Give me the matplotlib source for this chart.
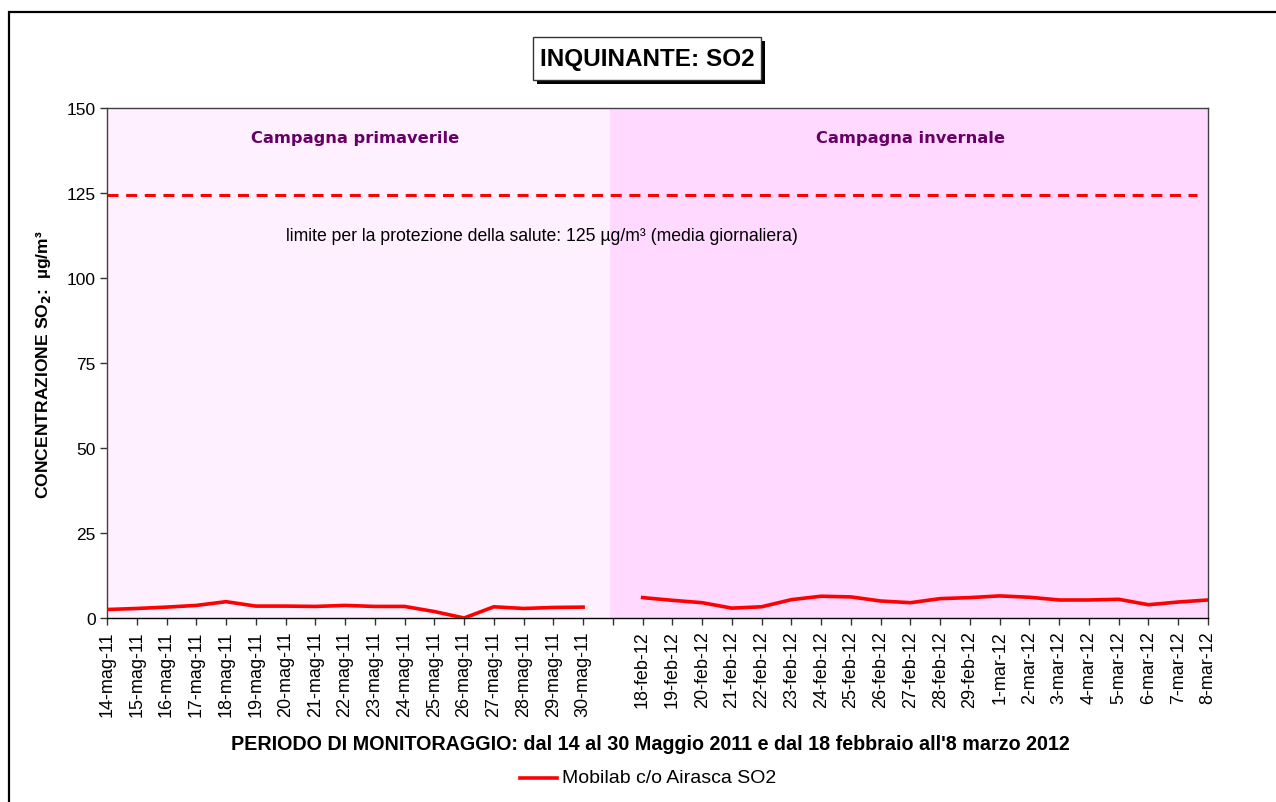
import matplotlib
matplotlib.use("Agg")
import matplotlib.pyplot as plt
import numpy as np
from matplotlib.patches import Rectangle
from matplotlib.lines import Line2D

plt.rcParams['font.family'] = ['Liberation Sans', 'DejaVu Sans']

# ---------------- data ----------------
may_labels = ["14-mag-11", "15-mag-11", "16-mag-11", "17-mag-11", "18-mag-11", "19-mag-11",
              "20-mag-11", "21-mag-11", "22-mag-11", "23-mag-11", "24-mag-11", "25-mag-11",
              "26-mag-11", "27-mag-11", "28-mag-11", "29-mag-11", "30-mag-11"]
may_values = [2.5, 2.8, 3.2, 3.7, 4.8, 3.5, 3.5, 3.4, 3.7, 3.4, 3.4, 1.9, 0.0, 3.3, 2.8, 3.1, 3.2]

gap_labels = [""]
gap_values = [np.nan]

winter_labels = ["18-feb-12", "19-feb-12", "20-feb-12", "21-feb-12", "22-feb-12", "23-feb-12",
                 "24-feb-12", "25-feb-12", "26-feb-12", "27-feb-12", "28-feb-12", "29-feb-12",
                 "1-mar-12", "2-mar-12", "3-mar-12", "4-mar-12", "5-mar-12", "6-mar-12",
                 "7-mar-12", "8-mar-12"]
winter_values = [6.0, 5.2, 4.5, 2.9, 3.3, 5.4, 6.4, 6.2, 5.0, 4.5, 5.7, 6.0, 6.5, 6.1,
                 5.3, 5.3, 5.5, 3.9, 4.7, 5.3]

limit_value = 124.3
y_ticks = [0, 25, 50, 75, 100, 125, 150]
campaign_split = 16.9

labels = may_labels + gap_labels + winter_labels
values = may_values + gap_values + winter_values
x = np.arange(len(labels))

# ---------------- figure ----------------
W, H = 1276, 803
fig = plt.figure(figsize=(W / 100, H / 100), dpi=100)
fig.patch.set_facecolor("white")

def fx(px):
    return px / W

def fy(py):
    return 1 - py / H

# outer frame (extends off canvas at right/bottom)
fig.patches.append(Rectangle((fx(9), fy(830)), fx(1300), fy(13) - fy(830),
                             transform=fig.transFigure, fill=False,
                             edgecolor="black", linewidth=1.6, zorder=0))

left, right, top, bottom = 107, 1208, 109, 619
ax = fig.add_axes([fx(left), fy(bottom), fx(right - left), fy(top) - fy(bottom)])

ax.axvspan(x[0], campaign_split, color="#FFF0FF", zorder=0, lw=0)
ax.axvspan(campaign_split, x[-1], color="#FFD9FF", zorder=0, lw=0)

ax.plot(x, values, color="#FF0000", lw=2.6, zorder=3, solid_joinstyle="round")
ax.axhline(limit_value, xmin=0, xmax=0.99, color="#FF0000", lw=2.2,
           dashes=(3.6, 2.5), zorder=2)

ax.set_xlim(x[0], x[-1])
ax.set_ylim(y_ticks[0], y_ticks[-1])
ax.set_yticks(y_ticks)
ax.set_xticks(x)
ax.set_xticklabels(labels, rotation=90, fontsize=13)
ax.tick_params(axis="x", direction="out", length=5, width=1, pad=4, colors="#333333",
               labelcolor="black")
ax.tick_params(axis="y", direction="out", length=5, width=1, pad=3, labelsize=12.5,
               colors="#333333", labelcolor="black")
for s in ax.spines.values():
    s.set_color("#404040")
    s.set_linewidth(1.0)
ax.spines["bottom"].set_color("black")

# texts in plot
ax.text((286 - left) / (right - left), (bottom - 237) / (bottom - top),
        "limite per la protezione della salute: 125 µg/m³ (media giornaliera)",
        transform=ax.transAxes, fontsize=12.7, va="center", ha="left")
ax.text((355 - left) / (right - left), (bottom - 139) / (bottom - top),
        "Campagna primaverile", transform=ax.transAxes, fontsize=11.7,
        fontweight="bold", color="#660066", family="DejaVu Sans", ha="center", va="center")
ax.text((910 - left) / (right - left), (bottom - 139) / (bottom - top),
        "Campagna invernale", transform=ax.transAxes, fontsize=11.7,
        fontweight="bold", color="#660066", family="DejaVu Sans", ha="center", va="center")

# title box with shadow
bx0, by0, bx1, by1 = 533, 38, 761, 81
fig.patches.append(Rectangle((fx(bx0 + 4), fy(by1 + 4)), fx(bx1 - bx0), fy(by0) - fy(by1),
                             transform=fig.transFigure, facecolor="black",
                             edgecolor="black", lw=0, zorder=1))
fig.patches.append(Rectangle((fx(bx0), fy(by1)), fx(bx1 - bx0), fy(by0) - fy(by1),
                             transform=fig.transFigure, facecolor="white",
                             edgecolor="#333333", lw=1.0, zorder=2))
fig.text(fx((bx0 + bx1) / 2), fy((by0 + by1) / 2), "INQUINANTE: SO2",
         fontsize=17.5, fontweight="bold", ha="center", va="center", zorder=3)

# axis titles
fig.text(fx(650), fy(745),
         "PERIODO DI MONITORAGGIO: dal 14 al 30 Maggio 2011 e dal 18 febbraio all'8 marzo 2012",
         fontsize=14.2, fontweight="bold", ha="center", va="center")
fig.text(fx(44), fy(365), r"CONCENTRAZIONE SO$_\mathbf{2}$:  µg/m³",
         fontsize=12.6, fontweight="bold", rotation=90, ha="center", va="center")

# legend
fig.lines.append(Line2D([fx(520), fx(557)], [fy(779), fy(779)], transform=fig.transFigure,
                        color="#FF0000", lw=2.6))
fig.text(fx(562), fy(779), "Mobilab c/o Airasca SO2", fontsize=14, ha="left", va="center")

fig.savefig("out.png", dpi=100)
